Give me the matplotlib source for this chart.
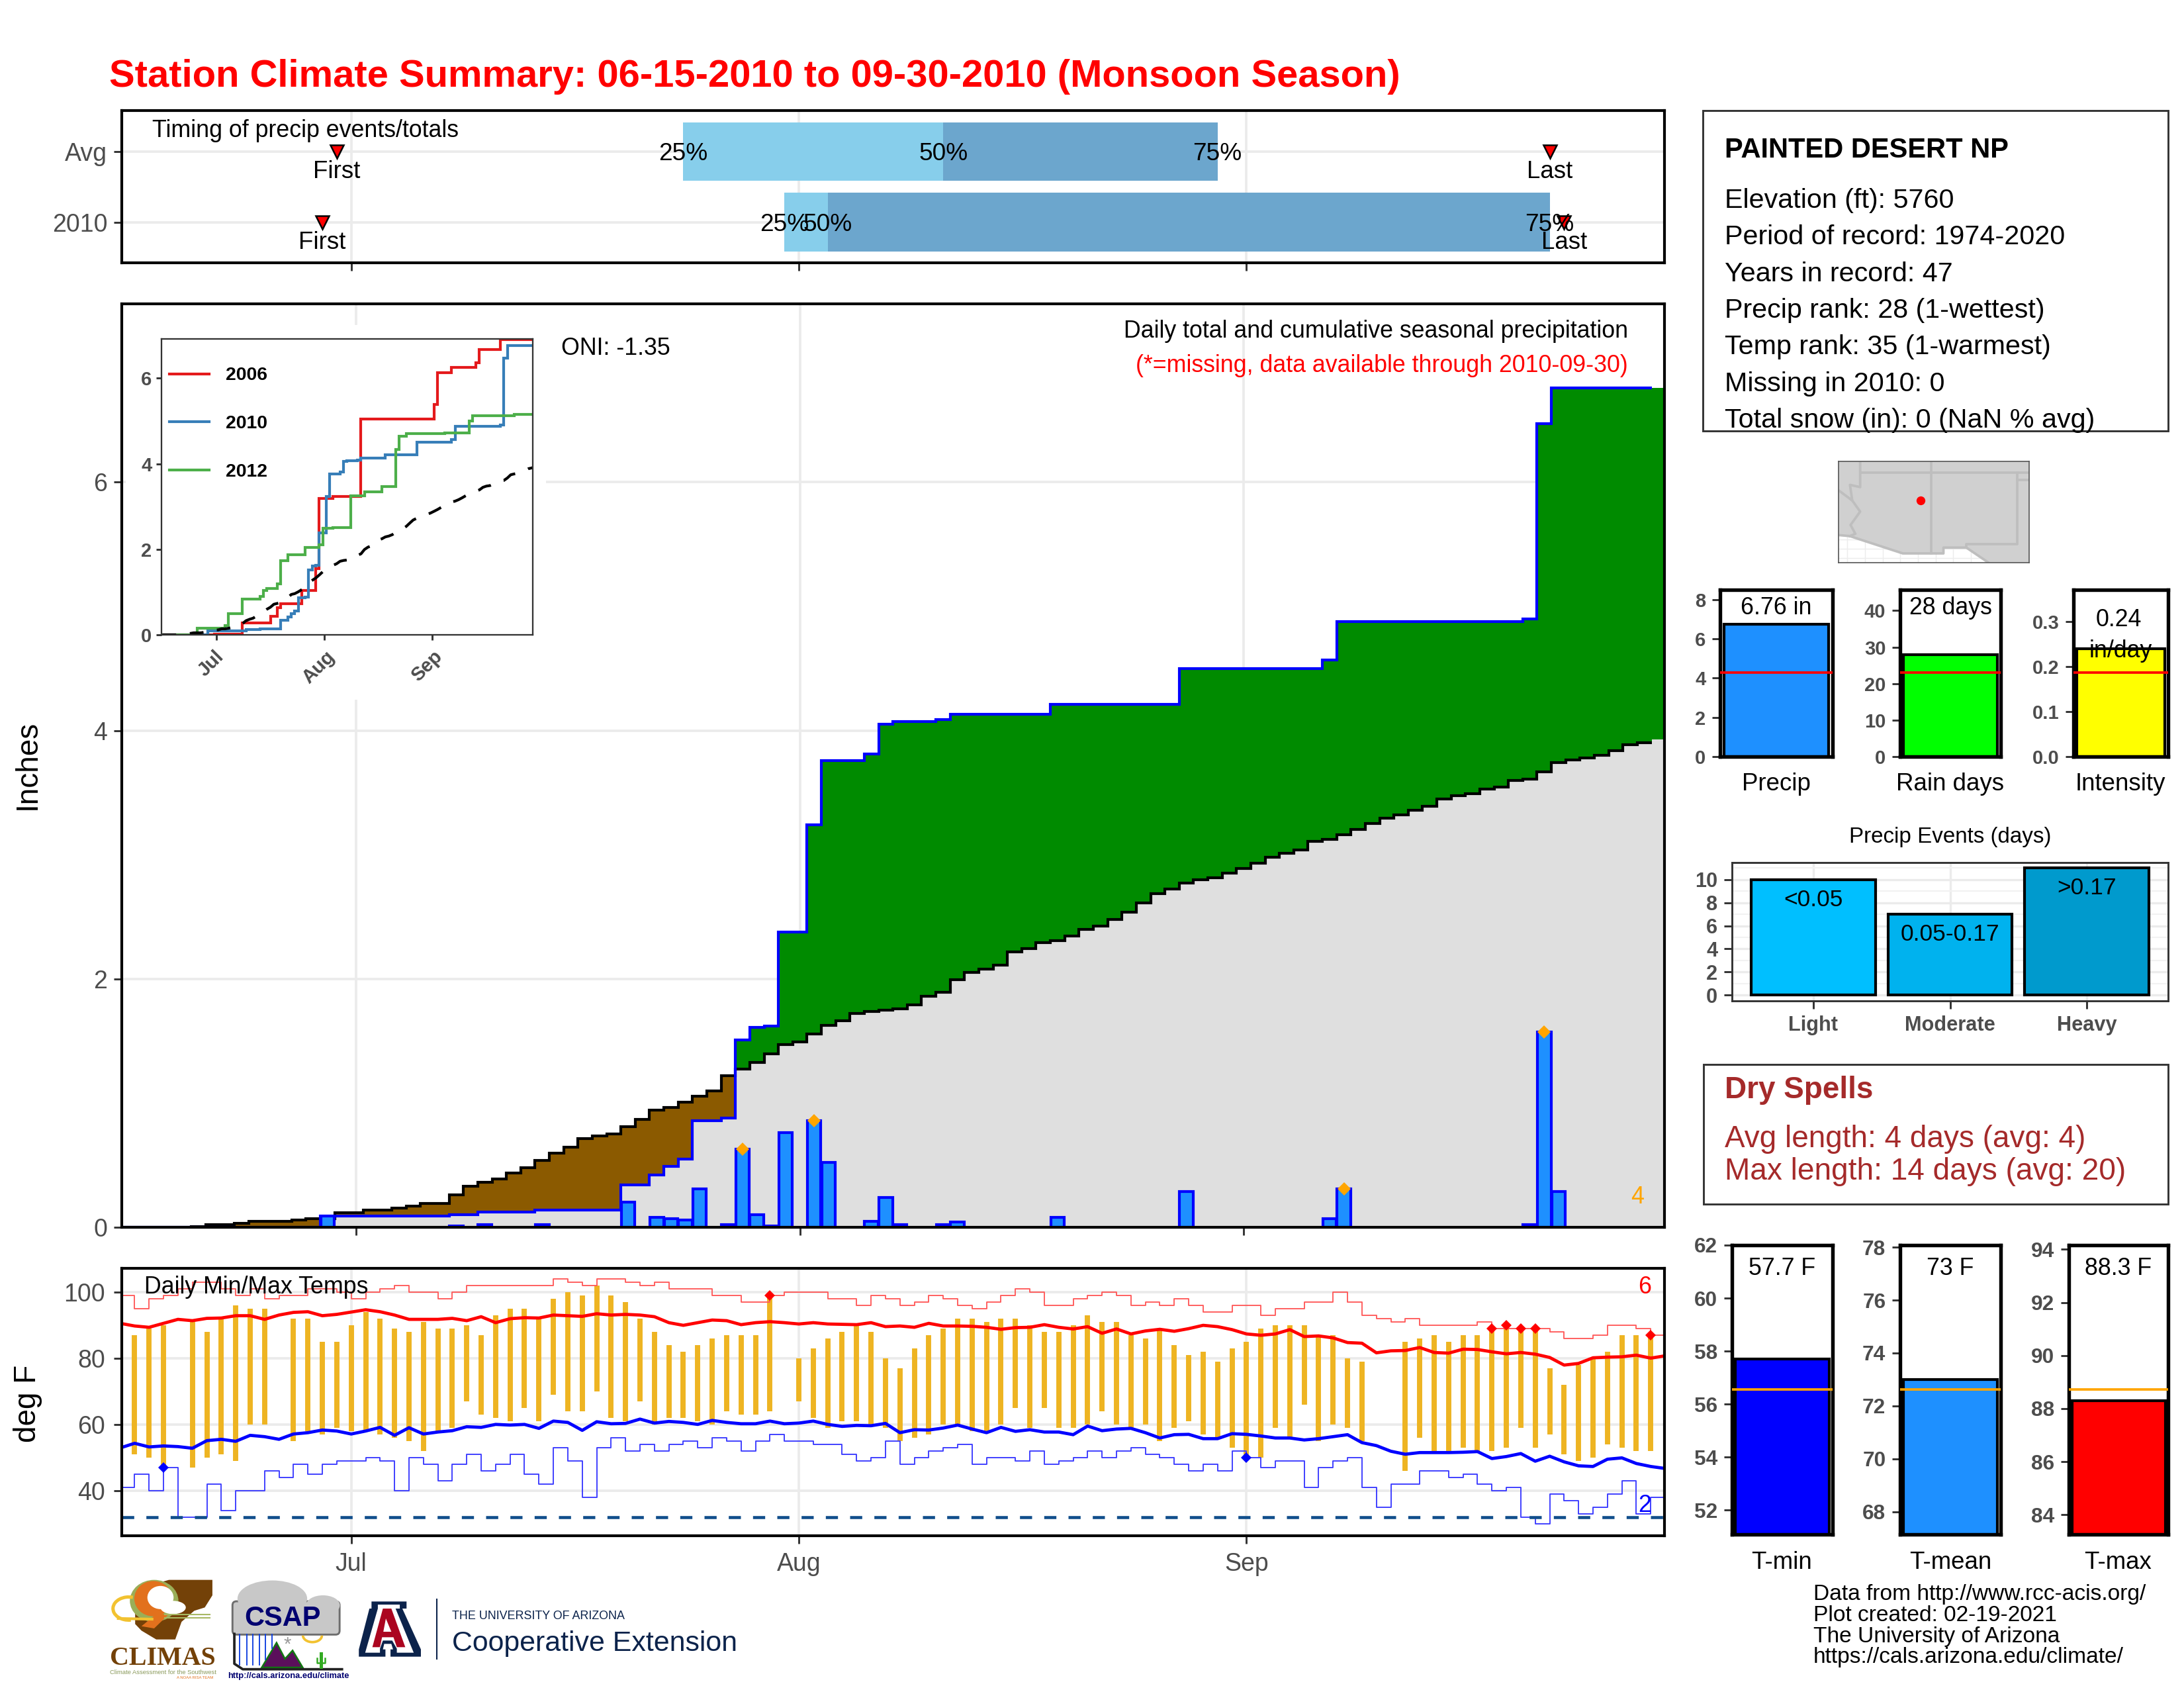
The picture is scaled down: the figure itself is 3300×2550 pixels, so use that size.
import numpy as np
import matplotlib
matplotlib.use("Agg")
import matplotlib.pyplot as plt
from matplotlib.patches import Rectangle, Polygon, Ellipse, FancyBboxPatch, Arc
from matplotlib.transforms import ScaledTranslation

plt.rcParams['font.family'] = ['Liberation Sans', 'DejaVu Sans']
W, H = 3300, 2550
GRID = '#EBEBEB'; TICK = '#333333'; LAB = '#4D4D4D'

# ---------------- data ----------------
days = np.arange(108)
month_ticks = [16, 47, 78]
month_labels = ['Jul', 'Aug', 'Sep']

rain_days = [14, 23, 25, 29, 35, 37, 38, 39, 40, 42, 43, 44, 45, 46, 48, 49, 52, 53, 54, 57, 58, 65, 74, 84, 85, 98, 99, 100]
rain_amounts = [.09, .01, .02, .02, .20, .08, .07, .06, .31, .02, .63, .10, .01, .76, .86, .52, .05, .24, .02, .02, .04, .08, .29, .07, .31, .02, 1.57, .29]
extreme_days = [43, 48, 85, 99]

avg_cum = [0, 0, 0, 0, 0, .005, .022, .022, .033, .047,
           .047, .047, .059, .07, .07, .115, .115, .14, .14, .154,
           .17, .193, .193, .263, .33, .363, .388, .436, .48, .536,
           .598, .645, .715, .735, .754, .81, .87, .944, .964, 1.006,
           1.056, 1.10, 1.22, 1.274, 1.327, 1.397, 1.472, 1.494, 1.559, 1.626,
           1.662, 1.72, 1.739, 1.749, 1.758, 1.79, 1.86, 1.894, 1.995, 2.05,
           2.08, 2.11, 2.217, 2.246, 2.29, 2.31, 2.343, 2.40, 2.425, 2.478,
           2.536, 2.613, 2.686, 2.725, 2.773, 2.80, 2.816, 2.85, 2.89, 2.932,
           2.98, 3.01, 3.04, 3.106, 3.126, 3.16, 3.203, 3.25, 3.295, 3.32,
           3.357, 3.39, 3.45, 3.478, 3.49, 3.527, 3.546, 3.60, 3.61, 3.667,
           3.744, 3.763, 3.778, 3.80, 3.84, 3.884, 3.903, 3.93]

y2006_days = [16, 24, 32, 34, 35, 41, 45, 46, 50, 58, 64, 79, 80, 84, 91, 92, 98]
y2006_vals = [.02, .28, .43, .63, .72, 1.03, 1.55, 3.19, 3.24, 5.04, 5.05, 5.38, 6.13, 6.25, 6.37, 6.67, 6.91]
y2012_days = [11, 19, 20, 24, 29, 30, 31, 34, 35, 37, 42, 46, 47, 50, 55, 59, 64, 68, 69, 71, 82, 89, 90, 102]
y2012_vals = [.15, .22, .49, .84, .90, 1.03, 1.09, 1.19, 1.73, 1.87, 2.04, 2.10, 2.49, 2.51, 3.25, 3.34, 3.47, 4.33, 4.65, 4.71, 4.72, 5.00, 5.13, 5.16]

n = np.nan
tmax = [n, 87, 89, 90, n, 91, 88, 92, 96, 95,
        95, n, 92, 92, 85, 85, 90, 94, 92, 89,
        88, 91, 89, 89, 90, 87, 93, 95, 95, 92,
        98, 100, 99, 102, 99, 97, 92, 88, 84, 82,
        84, 86, 87, 87, 87, 99, n, 80, 83, 86,
        88, 90, 88, 80, 77, 83, 87, 89, 92, 92,
        91, 92, 92, 90, 88, 88, 90, 93, 91, 91,
        87, 86, 89, 84, 81, 82, 79, 83, 85, 89,
        90, 90, 90, 87, 87, 80, 79, n, n, 85,
        86, 87, 85, 87, 87, 89, 90, 89, 89, 77,
        72, 78, 80, 82, 87, 87, 87, n]
tmin = [n, 51, 50, 47, n, 47, 50, 51, 49, 60,
        60, n, 55, 58, 57, 59, 58, 58, 57, 56,
        55, 52, 58, 59, 67, 63, 62, 61, 65, 61,
        69, 64, 64, 70, 62, 61, 67, 60, 62, 62,
        61, 60, 64, 63, 63, 64, n, 67, 62, 59,
        61, 61, 60, 59, 55, 56, 57, 60, 60, 58,
        58, 60, 65, 59, 65, 59, 59, 60, 64, 60,
        59, 60, 55, 59, 61, 57, 56, 53, 50, 50,
        59, 56, 66, 55, 60, 59, 55, n, n, 46,
        56, 52, 52, 53, 52, 52, 53, 59, 53, 57,
        51, 49, 50, 54, 53, 52, 52, n]
rec_high = [99, 95, 98, 99, 101, 103, 103, 101, 99, 101,
            98, 99, 99, 101, 101, 100, 98, 100, 101, 102,
            100, 100, 98, 100, 102, 102, 102, 102, 102, 102,
            104, 103, 102, 104, 104, 103, 102, 103, 101, 101,
            101, 99, 99, 97, 97, 99, 100, 100, 100, 98,
            98, 96, 99, 98, 96, 97, 99, 98, 96, 95,
            97, 99, 101, 100, 96, 96, 98, 99, 100, 99,
            96, 97, 96, 98, 96, 94, 94, 96, 96, 93,
            95, 95, 97, 97, 100, 97, 93, 92, 91, 92,
            90, 90, 90, 90, 91, 89, 89, 89, 89, 88,
            86, 86, 87, 90, 90, 89, 87, 87]
rec_low = [41, 45, 40, 47, 32, 32, 42, 34, 40, 40,
           46, 44, 48, 45, 48, 49, 49, 50, 49, 40,
           50, 48, 43, 48, 51, 46, 48, 51, 45, 42,
           53, 49, 38, 53, 56, 52, 54, 52, 54, 55,
           53, 56, 55, 52, 55, 57, 55, 55, 54, 54,
           51, 49, 50, 55, 48, 50, 52, 53, 54, 48,
           50, 50, 49, 52, 48, 49, 50, 52, 50, 52,
           53, 51, 50, 48, 46, 48, 46, 52, 50, 47,
           49, 49, 41, 47, 49, 50, 41, 35, 42, 42,
           46, 46, 44, 45, 42, 40, 41, 32, 30, 39,
           37, 33, 35, 39, 43, 33, 38, 38]
mean_high = [90.6, 89.8, 89.4, 90.6, 91.8, 91.4, 92.1, 92.2, 92.9, 92.9,
             91.8, 93.1, 93.9, 94.1, 92.9, 93.3, 94.0, 94.7, 94.1, 93.1,
             91.8, 91.8, 91.8, 92.1, 91.4, 92.6, 90.8, 92.0, 92.3, 92.2,
             93.1, 92.9, 92.7, 93.5, 93.1, 93.3, 93.1, 92.6, 90.8, 90.0,
             90.8, 91.6, 91.4, 90.2, 90.8, 91.1, 90.8, 90.4, 90.8, 90.4,
             90.3, 90.2, 90.8, 89.6, 89.8, 89.4, 90.6, 89.8, 89.8, 89.7,
             89.4, 88.8, 89.3, 89.4, 90.2, 89.4, 88.9, 89.6, 87.6, 88.9,
             87.4, 88.3, 88.8, 88.2, 89.0, 90.0, 89.6, 88.7, 87.4, 87.0,
             87.4, 88.7, 86.6, 86.8, 86.2, 84.8, 84.6, 81.7, 82.3, 82.4,
             83.3, 81.8, 81.6, 82.8, 82.7, 82.0, 81.4, 81.8, 81.3, 80.3,
             78.0, 78.5, 80.2, 80.4, 80.5, 81.0, 80.1, 80.8]
mean_low = [53.0, 54.4, 53.3, 53.6, 53.4, 52.9, 55.2, 55.6, 55.0, 56.8,
            56.4, 55.6, 57.2, 57.6, 58.4, 58.1, 57.2, 58.1, 59.2, 56.8,
            59.1, 57.2, 57.8, 58.2, 59.4, 59.2, 60.1, 59.9, 60.1, 58.9,
            61.1, 60.7, 58.3, 60.9, 60.3, 60.4, 61.7, 60.5, 61.0, 60.7,
            60.1, 61.3, 60.7, 60.3, 60.3, 61.1, 60.3, 60.5, 61.1, 60.1,
            59.5, 59.8, 59.7, 60.4, 57.6, 58.5, 58.4, 59.0, 59.9, 58.7,
            57.6, 59.2, 58.0, 58.5, 57.8, 57.8, 57.0, 59.6, 58.2, 58.7,
            58.9, 57.6, 56.0, 57.0, 57.1, 55.8, 55.8, 57.3, 57.1, 56.6,
            56.0, 56.0, 55.4, 55.8, 56.4, 57.0, 54.6, 53.7, 52.0, 51.1,
            51.6, 51.6, 51.6, 51.7, 51.9, 49.8, 50.4, 51.3, 49.0, 50.5,
            48.8, 47.6, 47.4, 49.6, 50.0, 48.3, 47.4, 46.8]
hot_days = [45, 95, 96, 97, 98, 106]
cold_days = [3, 78]
freeze = 32

timing_rows = ['Avg', '2010']
timing_pcts = [[39, 57, 76], [46, 49, 99]]
timing_first = [15, 14]
timing_last = [99, 100]

summary_labels = ['Precip', 'Rain days', 'Intensity']
summary_vals = [6.76, 28, 0.24]
summary_avgs = [4.29, 23, 0.186]
summary_texts = ['6.76 in', '28 days', '0.24\nin/day']
event_labels = ['Light', 'Moderate', 'Heavy']
event_vals = [10, 7, 11]
event_texts = ['<0.05', '0.05-0.17', '>0.17']
temp_labels = ['T-min', 'T-mean', 'T-max']
temp_vals = [57.7, 73, 88.3]
temp_avgs = [56.55, 72.62, 88.72]
temp_texts = ['57.7 F', '73 F', '88.3 F']
info_lines = ['Elevation (ft): 5760', 'Period of record: 1974-2020', 'Years in record: 47',
              'Precip rank: 28 (1-wettest)', 'Temp rank: 35 (1-warmest)', 'Missing in 2010: 0',
              'Total snow (in): 0 (NaN % avg)']
station_lon, station_lat = -109.8, 35.07

assert all(len(a) == 108 for a in [avg_cum, tmax, tmin, rec_high, rec_low, mean_high, mean_low])

precip = np.zeros(108); precip[rain_days] = rain_amounts
cum = np.cumsum(precip)
avg = np.array(avg_cum)

def expand(cd, cv):
    a = np.zeros(108)
    for d, v in zip(cd, cv):
        a[d:] = v
    return a

# ---------------- helpers ----------------
fig = plt.figure(figsize=(11, 8.5), dpi=300, facecolor='white')
CB = 'center_baseline'

def axpx(l, t, r, b, **kw):
    return fig.add_axes([l / W, 1 - b / H, (r - l) / W, (b - t) / H], **kw)

def style(ax, lw=1.0, color='black', tcolor=LAB, size=9.0, bold=False, pad=2.4):
    for s in ax.spines.values():
        s.set_linewidth(lw); s.set_color(color)
    ax.tick_params(color=TICK, width=0.7, length=2.8, labelcolor=tcolor, labelsize=size, pad=pad)
    for t in ax.get_yticklabels():
        t.set_va(CB)
        if bold:
            t.set_fontweight('bold')
    if bold:
        for t in ax.get_xticklabels():
            t.set_fontweight('bold')

L, R = 184, 2515

# ---------------- timing panel ----------------
ax = axpx(L, 167, R, 397)
ax.set_xlim(0.11, 106.95); ax.set_ylim(0.425, 2.58)
ax.set_axisbelow(True)
ax.grid(True, color=GRID, lw=0.9)
ax.set_xticks(month_ticks); ax.set_xticklabels([])
ax.set_yticks([2, 1]); ax.set_yticklabels(timing_rows)
for row, pct, fi, la in zip([2, 1], timing_pcts, timing_first, timing_last):
    ax.barh(row, pct[1] - pct[0], left=pct[0], height=0.83, color='#87CEEB', lw=0)
    ax.barh(row, pct[2] - pct[1], left=pct[1], height=0.83, color='#6CA6CD', lw=0)
    for p, s in zip(pct, ['25%', '50%', '75%']):
        ax.text(p, row, s, ha='center', va=CB, fontsize=8.9, color='black')
    ax.plot([fi, la], [row, row], ls='none', marker='v', ms=5, mfc='red', mec='black', mew=0.6)
    ax.text(fi, row - 0.25, 'First', ha='center', va=CB, fontsize=8.8)
    ax.text(la, row - 0.25, 'Last', ha='center', va=CB, fontsize=8.8)
ax.text(2.2, 2.33, 'Timing of precip events/totals', ha='left', va=CB, fontsize=8.6)
style(ax)

# ---------------- main precip panel ----------------
ax = axpx(L, 459, R, 1854)
ax.set_xlim(-0.37, 107.4); ax.set_ylim(0, 7.436)
ax.set_axisbelow(True)
ax.grid(True, color=GRID, lw=0.9)
ax.set_xticks(month_ticks); ax.set_xticklabels([])
ax.set_yticks([0, 2, 4, 6])
edges = np.arange(109) - 0.5
low = np.minimum(cum, avg); high = np.maximum(cum, avg)
ax.stairs(low, edges, baseline=0, fill=True, color='#DFDFDF', lw=0, zorder=1.2)
ax.stairs(high, edges, baseline=avg, fill=True, color='#008B00', lw=0, zorder=1.3)
ax.stairs(high, edges, baseline=cum, fill=True, color='#8B5A00', lw=0, zorder=1.3)
ax.stairs(avg[:107], edges[:108], baseline=None, color='black', lw=1.0, zorder=1.6)
ax.stairs(cum[:107], edges[:108], baseline=None, color='blue', lw=1.0, zorder=1.7)
ax.bar(days[precip > 0], precip[precip > 0], width=0.95, color='#1E90FF', edgecolor='blue', lw=1.0, zorder=1.8)
ax.plot(extreme_days, precip[extreme_days], ls='none', marker='D', ms=3.4, color='orange', mew=0, zorder=1.9)
ax.add_patch(Rectangle((190 / W, 1 - 1057 / H), 635 / W, 566 / H, transform=fig.transFigure,
                       facecolor='white', edgecolor='none', zorder=1))
style(ax)

# inset
ax = axpx(244, 512, 805, 959)
ax.set_xlim(0.25, 106.8); ax.set_ylim(0, 6.92)
ax.set_xticks(month_ticks); ax.set_xticklabels(month_labels, rotation=45, ha='center')
ax.set_yticks([0, 2, 4, 6])
ax.stairs(expand(y2006_days, y2006_vals), edges, baseline=None, color='#E41A1C', lw=1.0, label='2006')
ax.stairs(cum, edges, baseline=None, color='#377EB8', lw=1.0, label='2010')
ax.stairs(expand(y2012_days, y2012_vals), edges, baseline=None, color='#4DAF4A', lw=1.0, label='2012')
ax.plot(days + 0.5, avg, color='black', lw=1.0, ls=(0, (5, 5)))
style(ax, lw=0.55, color=TICK, size=7.0, bold=True)
ax.tick_params(length=2, pad=1.5)
shift = ScaledTranslation(-2 / 72, -1 / 72, fig.dpi_scale_trans)
for t in ax.get_xticklabels():
    t.set_transform(t.get_transform() + shift)
ax.legend(frameon=False, loc='upper left', bbox_to_anchor=(0.022, 0.905), borderpad=0,
          borderaxespad=0, handlelength=2.1, handletextpad=0.9, labelspacing=1.65,
          prop={'weight': 'bold', 'size': 6.8})

# ---------------- temperature panel ----------------
ax = axpx(L, 1916, R, 2320)
ax.set_xlim(0.11, 106.95); ax.set_ylim(26.5, 107.2)
ax.set_axisbelow(True)
ax.grid(True, color=GRID, lw=0.9)
ax.set_xticks(month_ticks); ax.set_xticklabels(month_labels)
ax.set_yticks([40, 60, 80, 100])
ax.vlines(days, tmin, tmax, color='#EEB422', lw=1.9, zorder=1.5)
ax.step(days, rec_high, where='post', color='#FF5A5A', lw=0.45, zorder=1.6)
ax.step(days, rec_low, where='post', color='#3A3AFF', lw=0.45, zorder=1.6)
ax.axhline(freeze, color='#104E8B', lw=1.1, ls=(0, (4, 4)), zorder=1.65)
ax.plot(days, mean_high, color='red', lw=1.15, zorder=1.7)
ax.plot(days, mean_low, color='blue', lw=1.15, zorder=1.7)
ax.plot(hot_days, np.array(tmax, float)[hot_days], ls='none', marker='D', ms=2.6, color='red', mew=0, zorder=1.8)
ax.plot(cold_days, np.array(tmin, float)[cold_days], ls='none', marker='D', ms=2.6, color='blue', mew=0, zorder=1.8)
style(ax, pad=3.2)

# ---------------- summary bars ----------------
boxes = [(2599, 2769, 8.5, '#1E90FF', [0, 2, 4, 6, 8]),
         (2871, 3023, 45.7, '#00FF00', [0, 10, 20, 30, 40]),
         (3133, 3276, 0.37, '#FFFF00', [0, .1, .2, .3])]
for i, ((l, r, top, col, ticks), v, a, tx) in enumerate(zip(boxes, summary_vals, summary_avgs, summary_texts)):
    ax = axpx(l, 891, r, 1143)
    ax.set_xlim(-.5, .5); ax.set_ylim(0, top)
    ax.bar(0, v, width=0.93, color=col, edgecolor='black', lw=1.0)
    ax.axhline(a, color='red', lw=0.9, zorder=3)
    ax.set_xticks([]); ax.set_yticks(ticks)
    if i == 2:
        ax.set_yticklabels(['0.0', '0.1', '0.2', '0.3'])
        ax.text(-0.02, v * 1.29, '0.24', ha='center', va=CB, fontsize=8.6)
        ax.text(0, v * 1.0, 'in/day', ha='center', va=CB, fontsize=8.6, zorder=5)
    else:
        ax.text(0, top * 0.907, tx, ha='center', va=CB, fontsize=8.6)
    style(ax, lw=1.3, size=7.0, bold=True)

# ---------------- precip events ----------------
ax = axpx(2617, 1303, 3276, 1512)
ax.set_xlim(-0.595, 2.595); ax.set_ylim(-0.5, 11.48)
ax.set_axisbelow(True)
ax.grid(True, color=GRID, lw=0.8)
ax.set_yticks([1, 3, 5, 7, 9, 11], minor=True)
ax.grid(True, which='minor', axis='y', color='#F2F2F2', lw=0.5)
ax.set_xticks(range(3)); ax.set_xticklabels(event_labels)
ax.set_yticks([0, 2, 4, 6, 8, 10])
ax.bar(range(3), event_vals, width=0.91, color=['#00BFFF', '#00B2EE', '#009ACD'], edgecolor='black', lw=1.0)
for i, (v, s) in enumerate(zip(event_vals, event_texts)):
    ax.text(i, v - 1.55, s, ha='center', va=CB, fontsize=8.5)
style(ax, lw=0.7, color=TICK, size=7.4, bold=True)
ax.tick_params(which='minor', length=0)

# ---------------- temperature summary ----------------
tboxes = [(2617, 2769, 51.08, 62, '#0000FF', [52, 54, 56, 58, 60, 62]),
          (2871, 3023, 67.14, 78.08, '#1E90FF', [68, 70, 72, 74, 76, 78]),
          (3126, 3276, 83.26, 94.16, '#FF0000', [84, 86, 88, 90, 92, 94])]
for (l, r, lo, hi, col, ticks), v, a, s in zip(tboxes, temp_vals, temp_avgs, temp_texts):
    ax = axpx(l, 1881, r, 2318)
    ax.set_xlim(-.5, .5); ax.set_ylim(lo, hi)
    ax.bar(0, v, width=0.94, color=col, edgecolor='black', lw=1.0)
    ax.axhline(a, color='orange', lw=0.9, zorder=3)
    ax.set_xticks([]); ax.set_yticks(ticks)
    ax.text(0, hi - (hi - lo) * 0.073, s, ha='center', va=CB, fontsize=8.6)
    style(ax, lw=1.3, size=7.6, bold=True)

# ---------------- map ----------------
ax = axpx(2778, 697, 3066, 850)
ax.set_xlim(-115.62, -102.14); ax.set_ylim(30.69, 37.81)
ax.set_xticks(np.arange(-115, -102, 1.25)); ax.set_yticks(np.arange(31, 33.1, 0.65))
ax.grid(True, color='#EDEDED', lw=0.35)
ax.set_axisbelow(True)
land_lon = [-115.62, -114.83, -111.07, -108.2, -108.2, -106.58, -105.01, -102.14, -102.14, -115.62]
land_lat = [32.63, 32.56, 31.34, 31.34, 31.75, 31.75, 30.69, 30.69, 37.81, 37.81]
ax.add_patch(Polygon(np.c_[land_lon, land_lat], facecolor='#D0D0D0', edgecolor='none', zorder=1))
BORDER = dict(color='#BEBEBE', lw=0.9, zorder=2)
ax.plot(land_lon[:7], land_lat[:7], **BORDER)
ax.plot([-114.09, -114.09, -114.81, -114.65, -115.62], [37.81, 36.0, 36.16, 35.06, 35.78], **BORDER)
ax.plot([-114.65, -114.09, -114.77, -114.43, -114.83], [35.06, 34.28, 33.34, 32.72, 32.56], **BORDER)
ax.plot([-109.05, -109.05], [37.81, 31.34], **BORDER)
ax.plot([-114.09, -102.14], [37, 37], **BORDER)
ax.plot([-103, -102.14], [36.53, 36.53], **BORDER)
ax.plot([-103, -103, -106.6, -106.6], [37, 32, 32, 31.75], **BORDER)
ax.plot([station_lon], [station_lat], marker='o', ms=3.2, color='red', mew=0, zorder=3)
style(ax, lw=0.4, color='#555555')
ax.tick_params(length=0, labelbottom=False, labelleft=False)

# ---------------- overlay: text, boxes, logos ----------------
ov = fig.add_axes([0, 0, 1, 1], zorder=20)
ov.set_xlim(0, W); ov.set_ylim(H, 0); ov.axis('off'); ov.patch.set_alpha(0)

def T(x, y, s, size=8.6, ha='left', va=CB, **kw):
    ov.text(x, y, s, fontsize=size, ha=ha, va=va, **kw)

T(165, 110, 'Station Climate Summary: 06-15-2010 to 09-30-2010 (Monsoon Season)', size=13.9, color='red', fontweight='bold')
T(42, 1155, 'Inches', size=11, ha='center', va='center', rotation=90)
T(42, 2120, 'deg F', size=11, ha='center', va='center', rotation=90)
T(848, 522, 'ONI: -1.35', size=8.6)
T(2460, 497, 'Daily total and cumulative seasonal precipitation', size=8.6, ha='right')
T(2460, 549, '(*=missing, data available through 2010-09-30)', size=8.6, ha='right', color='red')
T(2474, 1805, '4', size=8.6, ha='center', color='orange')
T(218, 1941, 'Daily Min/Max Temps', size=8.6)
T(2485, 1941, '6', size=8.6, ha='center', color='red')
T(2485, 2270, '2', size=8.6, ha='center', color='blue')

ov.add_patch(Rectangle((2573, 167), 703, 484, facecolor='none', edgecolor=TICK, lw=0.7))
T(2606, 222, 'PAINTED DESERT NP', size=10.0, fontweight='bold')
for y, s in zip([299, 354, 410, 465, 520, 576, 631], info_lines):
    T(2606, y, s, size=9.9)
for x, s in zip([2684, 2947, 3204], summary_labels):
    T(x, 1181, s, size=8.8, ha='center')
T(2947, 1261, 'Precip Events (days)', size=7.95, ha='center')
ov.add_patch(Rectangle((2574, 1608), 702, 211, facecolor='none', edgecolor=TICK, lw=0.7))
T(2606, 1642, 'Dry Spells', size=11, fontweight='bold', color='#A52A2A')
T(2606, 1716, 'Avg length: 4 days (avg: 4)', size=11, color='#A52A2A')
T(2606, 1765, 'Max length: 14 days (avg: 20)', size=11.05, color='#A52A2A')
for x, s in zip([2692, 2947, 3200], temp_labels):
    T(x, 2357, s, size=8.8, ha='center')
for y, s in zip([2405, 2437, 2469, 2500], ['Data from http://www.rcc-acis.org/', 'Plot created: 02-19-2021',
                                           'The University of Arizona', 'https://cals.arizona.edu/climate/']):
    T(2740, y, s, size=8.04)

# logos drawn in the coordinates of the logo strip
lx = lambda v: 150 + v / 1.568
ly = lambda v: 2350 + v / 3
def poly(pts, **kw):
    p = [(lx(a), ly(b)) for a, b in pts]
    ov.add_patch(Polygon(p, closed=kw.pop('closed', True), **kw))
def ell(cx, cy, w, h, **kw):
    ov.add_patch(Ellipse((lx(cx), ly(cy)), w / 1.568, h / 3, lw=0, **kw))
def seg(xs, ys, **kw):
    ov.plot([lx(v) for v in xs], [ly(v) for v in ys], **kw)

BROWN = '#734108'; NAVY = '#0C234B'; UARED = '#AB0520'
# CLIMAS
poly([(165, 110), (268, 110), (268, 180), (250, 235), (225, 250), (195, 300), (180, 380), (135, 380),
      (100, 340), (85, 310), (85, 200), (110, 140)], facecolor=BROWN, lw=0)
ell(130, 205, 115, 190, facecolor='#9AAE58')
ell(128, 195, 90, 160, facecolor='#E2711D')
ell(145, 190, 62, 105, facecolor='white')
ell(175, 235, 60, 60, facecolor='white')
poly([(100, 320), (135, 265), (165, 265), (130, 330)], facecolor='#E2711D', lw=0)
ov.add_patch(Arc((lx(70), ly(240)), 75 / 1.568, 105 / 3, theta1=80, theta2=290, color='#F2C230', lw=1.2))
seg([45, 125], [285, 288], color='#F2C230', lw=1.0)
seg([155, 262], [268, 268], color='#A8B864', lw=0.5)
seg([155, 262], [282, 282], color='#A8B864', lw=0.5)
T(lx(151), ly(452), 'CLIMAS', size=9.6, ha='center', family='Liberation Serif', fontweight='bold', color=BROWN)
T(lx(151), ly(527), 'Climate Assessment for the Southwest', size=2.25, ha='center', color='#8A9A5B')
T(lx(227), ly(552), 'A NOAA RISA TEAM', size=1.45, ha='center', color='#E2711D')
# CSAP
ov.add_patch(FancyBboxPatch((lx(325), ly(225)), 235 / 1.568, 115 / 3, boxstyle='round,pad=6', facecolor='#C8C8C8',
                            edgecolor='#6E6E6E', lw=0.7))
ell(410, 195, 165, 165, facecolor='#C8C8C8', edgecolor='#6E6E6E')
ell(530, 225, 80, 90, facecolor='#C8C8C8')
T(lx(435), ly(272), 'CSAP', size=10, ha='center', fontweight='bold', color='#000070')
seg([320, 320, 340, 575], [355, 490, 515, 515], color='#222222', lw=0.9)
for xv, yv in zip([333, 349, 364, 379, 394, 410], [495, 495, 495, 495, 470, 420]):
    seg([xv, xv], [358, yv], color='#1040E0', lw=0.45)
poly([(385, 507), (420, 395), (440, 468), (458, 430), (482, 507)], facecolor='#5B0F5B', edgecolor='#117711', lw=0.6)
T(lx(445), ly(395), '*', size=7, ha='center', color='#999999')
ov.add_patch(Arc((lx(505), ly(362)), 45 / 1.568, 60 / 3, theta1=0, theta2=180, color='#F2C230', lw=0.9))
seg([525, 525], [445, 505], color='#33AA22', lw=1.2)
seg([516, 516, 534, 534], [465, 485, 485, 465], color='#33AA22', lw=0.6)
T(lx(448), ly(542), 'http://cals.arizona.edu/climate', size=3.1, ha='center', fontweight='bold', color='#000070')
# University of Arizona
poly([(645, 208), (728, 208), (728, 240), (718, 240), (762, 425), (762, 458), (690, 458), (690, 425), (696, 425),
      (692, 400), (675, 400), (672, 425), (678, 425), (678, 458), (615, 458), (615, 425), (640, 240), (645, 240)],
     facecolor=NAVY, lw=0)
poly([(660, 222), (712, 222), (712, 240), (702, 240), (745, 440), (705, 440), (705, 422), (694, 385), (672, 385),
      (665, 422), (665, 440), (630, 440), (660, 240)], facecolor='white', lw=0)
poly([(672, 240), (692, 240), (725, 415), (705, 415), (697, 370), (670, 370), (665, 415), (647, 415)],
     facecolor=UARED, lw=0)
poly([(679, 285), (692, 345), (673, 345)], facecolor='white', lw=0)
seg([800, 800], [198, 468], color=NAVY, lw=0.5)
T(lx(835), ly(270), 'THE UNIVERSITY OF ARIZONA', size=4.3, color=NAVY)
T(lx(835), ly(385), 'Cooperative Extension', size=10.3, color=NAVY)

fig.savefig('out.png', dpi=300, facecolor='white')
